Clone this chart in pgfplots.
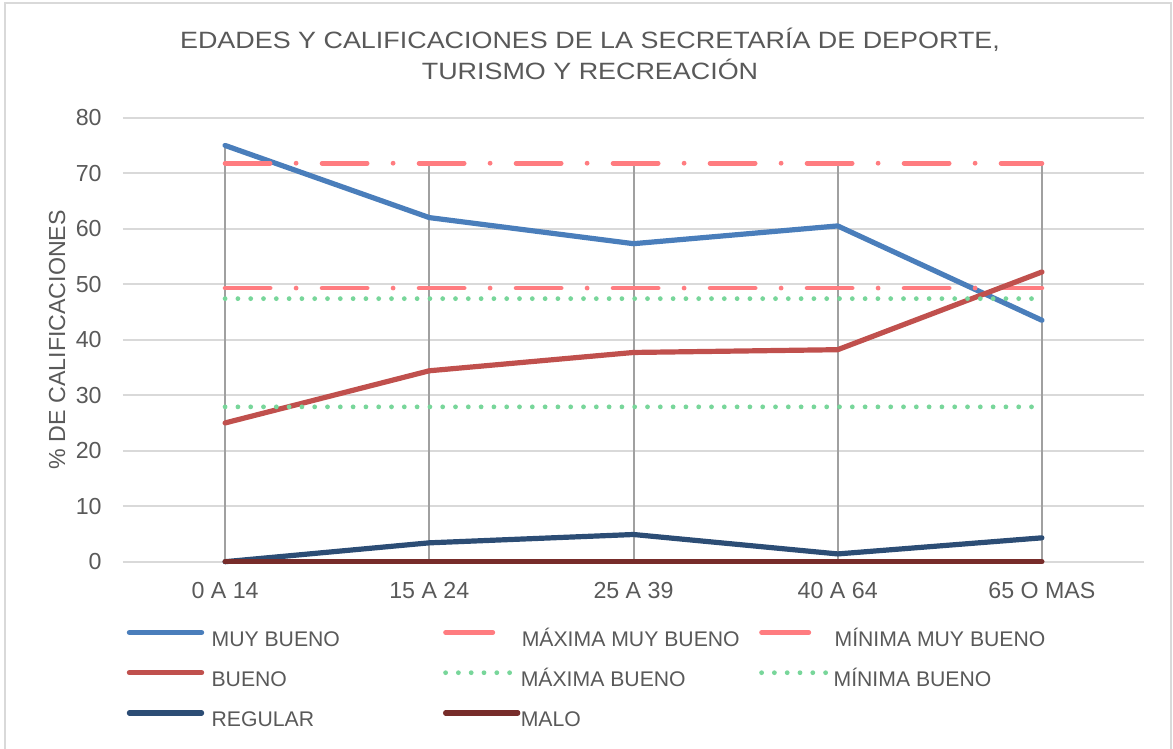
\documentclass[border=0pt]{standalone}
\usepackage{pgfplots}
\pgfplotsset{compat=1.18}
\usepackage{fontspec}
\setmainfont{Liberation Sans}
\newfontfamily\titlefont[FakeStretch=1.14]{Liberation Sans}
\definecolor{txt}{HTML}{595959}
\definecolor{gridc}{HTML}{D9D9D9}
\definecolor{dropc}{HTML}{A0A0A0}
\definecolor{frame}{HTML}{D9D9D9}
\definecolor{cblue}{HTML}{4A7EBB}
\definecolor{cred}{HTML}{C0504D}
\definecolor{cnavy}{HTML}{2C4D75}
\definecolor{cmaroon}{HTML}{772C2A}
\definecolor{csalmon}{HTML}{FF7C80}
\definecolor{cgreen}{HTML}{78D69A}
\pgfplotsset{dashleg/.style={legend image code/.code={\path (-1.5pt,3.8pt) (40pt,3.8pt); \draw[##1, solid] (1.2pt,3.8pt) -- (24.8pt,3.8pt);}}}
\begin{document}
\begin{tikzpicture}
\useasboundingbox (-61.5pt,-93.65pt) rectangle (525pt,280.85pt);
\draw[color=frame, line width=1pt] (-59pt,-100pt) -- (-59pt,279.4pt) -- (524pt,279.4pt) -- (524pt,-100pt);
\begin{axis}[
  at={(0pt,0pt)}, anchor=south west,
  scale only axis, width=510.5pt, height=222pt,
  xmin=-0.5, xmax=4.5, ymin=0, ymax=80,
  clip=false, no markers,
  xtick={0,1,2,3,4},
  xticklabels={0 A 14, 15 A 24, 25 A 39, 40 A 64, 65 O MAS},
  ytick={0,10,20,30,40,50,60,70,80},
  yticklabels={0,10,20,30,40,50,60,70,80},
  ymajorgrids, grid style={color=gridc, line width=0.9pt},
  axis line style={draw=none}, major tick length=0pt,
  /pgf/number format/assume math mode=true,
  tick label style={font=\fontsize{11.6}{14}\selectfont, text=txt},
  yticklabel style={anchor=east, inner sep=0pt, xshift=-10.5pt},
  xticklabel style={anchor=north, inner sep=0pt, yshift=-10pt},
  title={EDADES Y CALIFICACIONES DE LA SECRETARÍA DE DEPORTE,\\TURISMO Y RECREACIÓN},
  title style={at={(axis description cs:0.4574,1)}, anchor=south, align=center, inner sep=0pt, yshift=12.6pt, font=\titlefont\fontsize{11.8}{15.85}\selectfont, text=txt},
  ylabel={\% DE CALIFICACIONES},
  every axis y label/.style={at={(axis description cs:-0.0646,0.5)}, rotate=90, anchor=center, inner sep=0pt, font=\fontsize{11.6}{14}\selectfont, text=txt},
  legend columns=3,
  legend cell align=left,
  legend style={at={(axis description cs:0,0)}, anchor=north west, xshift=-1pt, yshift=-33.9pt,
    draw=none, fill=none, inner sep=0pt, column sep=0pt, row sep=10pt,
    font=\fontsize{10.6}{12}\selectfont, text=txt,
    nodes={inner sep=0pt, text height=8pt, text depth=2pt}},
  legend image code/.code={\path (-1.5pt,3.8pt) (40pt,3.8pt); \draw[#1] (1.2pt,3.8pt) -- (37.3pt,3.8pt);},
  every axis plot/.append style={line cap=round, line join=round},
]
% drop lines from the highest value of each category
\addplot[ycomb, color=dropc, line width=1pt, line cap=butt, forget plot] coordinates {(0,75) (1,71.8) (2,71.8) (3,71.8) (4,71.8)};

\addplot[color=cblue, line width=2.6pt] coordinates {(0,75) (1,62) (2,57.3) (3,60.5) (4,43.5)};
\addlegendentry{\makebox[114pt][l]{\hspace*{1pt}MUY BUENO}}

\addplot[color=csalmon, line width=2.4pt, dash pattern=on 22.5pt off 13pt on 0pt off 13pt, dashleg]
  coordinates {(0,71.8) (1,71.8) (2,71.8) (3,71.8) (4,71.8)};
\addlegendentry{\makebox[114pt][l]{\hspace*{-2pt}MÁXIMA MUY BUENO}}

\addplot[color=csalmon, line width=2.4pt, dash pattern=on 22.5pt off 13pt on 0pt off 13pt, dashleg]
  coordinates {(0,49.3) (1,49.3) (2,49.3) (3,49.3) (4,49.3)};
\addlegendentry{\hspace*{-3.5pt}MÍNIMA MUY BUENO}

\addplot[color=cred, line width=2.6pt] coordinates {(0,25) (1,34.4) (2,37.7) (3,38.2) (4,52.2)};
\addlegendentry{\makebox[114pt][l]{\hspace*{1pt}BUENO}}

\addplot[color=cgreen, line width=2.4pt, dash pattern=on 0pt off 6.4pt] coordinates {(0,47.4) (1,47.4) (2,47.4) (3,47.4) (4,47.4)};
\addlegendentry{\makebox[114pt][l]{\hspace*{-2.5pt}MÁXIMA BUENO}}

\addplot[color=cgreen, line width=2.4pt, dash pattern=on 0pt off 6.4pt] coordinates {(0,27.9) (1,27.9) (2,27.9) (3,27.9) (4,27.9)};
\addlegendentry{\hspace*{-4pt}MÍNIMA BUENO}

\addplot[color=cnavy, line width=2.6pt] coordinates {(0,0) (1,3.4) (2,4.9) (3,1.4) (4,4.3)};
\addlegendentry{\makebox[114pt][l]{\hspace*{1pt}REGULAR}}

\addplot[color=cmaroon, line width=2.6pt] coordinates {(0,0) (1,0) (2,0) (3,0) (4,0)};
\addlegendentry{\makebox[114pt][l]{\hspace*{-2.5pt}MALO}}
\end{axis}
\end{tikzpicture}
\end{document}
